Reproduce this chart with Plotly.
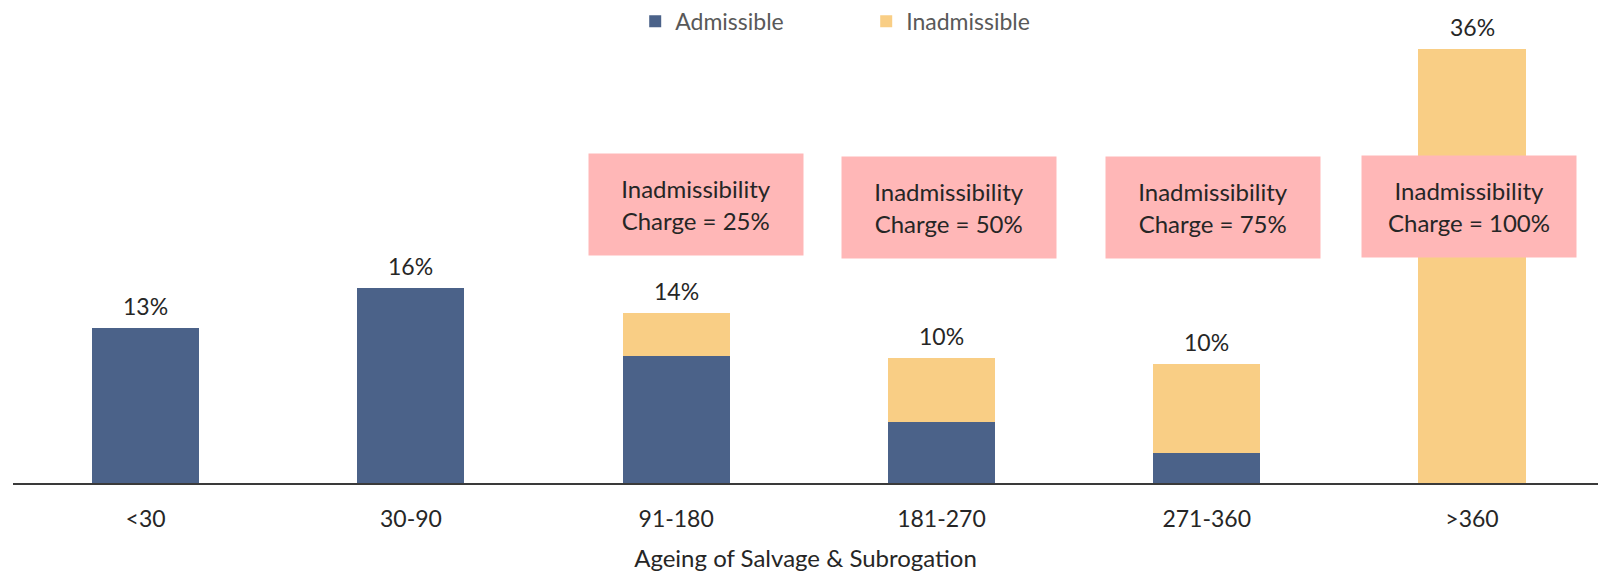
import plotly.graph_objects as go

# Ageing buckets (days) and share of recoveries in each bucket, in %
buckets = ["<30", "30-90", "91-180", "181-270", "271-360", ">360"]
admissible = [12.9, 16.2, 10.5, 5.1, 2.5, 0.0]
inadmissible = [0.0, 0.0, 3.6, 5.3, 7.4, 36.0]
totals = [a + b for a, b in zip(admissible, inadmissible)]

# Inadmissibility charge applied per bucket (only where a charge exists)
charge_buckets = ["91-180", "181-270", "271-360", ">360"]
charge_rates = [25, 50, 75, 100]
charge_offsets = [0.075, 0.03, 0.025, -0.01]
charge_heights = [0.628, 0.621, 0.621, 0.624]

BLUE = "#4B6289"
GOLD = "#F9CE85"
PINK = "#FFB7B7"
FONT = "Lato"
TEXT = "#262626"

fig = go.Figure()
fig.add_trace(go.Bar(x=buckets, y=admissible, name="Admissible",
                     marker=dict(color=BLUE, line=dict(width=0)), hoverinfo="skip"))
fig.add_trace(go.Bar(x=buckets, y=inadmissible, name="Inadmissible",
                     marker=dict(color=GOLD, line=dict(width=0)), hoverinfo="skip"))

# Total share label above each stacked column
for b, t in zip(buckets, totals):
    fig.add_annotation(x=b, y=t, xref="x", yref="y", text=f"{round(t)}%",
                       showarrow=False, yanchor="middle", yshift=22,
                       font=dict(family=FONT, size=23, color=TEXT))

for b, r, off, h in zip(charge_buckets, charge_rates, charge_offsets, charge_heights):
    idx = buckets.index(b)
    fig.add_annotation(x=idx + off, y=h, xref="x", yref="paper",
                       text=f"Inadmissibility<br>Charge = {r}%",
                       showarrow=False, bgcolor=PINK, width=212, height=99,
                       align="center", valign="middle",
                       font=dict(family=FONT, size=24, color=TEXT))

fig.update_layout(
    width=1598, height=574,
    margin=dict(l=13, r=0, t=40, b=91, autoexpand=False),
    barmode="stack", bargap=0.596,
    plot_bgcolor="white", paper_bgcolor="white",
    font=dict(family=FONT, size=23, color=TEXT),
    legend=dict(orientation="h", traceorder="normal",
                xref="container", x=0.3975, xanchor="left",
                yref="container", y=0.963, yanchor="middle",
                font=dict(family=FONT, size=23, color="#595959"),
                entrywidth=186, entrywidthmode="pixels",
                bgcolor="rgba(0,0,0,0)"),
    xaxis=dict(range=[-0.5, 5.475], showline=True, linecolor="#3a3a3a", linewidth=2,
               ticks="", ticklabelstandoff=14, automargin=False,
               tickfont=dict(family=FONT, size=23, color=TEXT),
               title=dict(text="Ageing of Salvage & Subrogation",
                          font=dict(family=FONT, size=24, color=TEXT), standoff=20),
               showgrid=False, zeroline=False),
    yaxis=dict(range=[0, 36.75], visible=False, showgrid=False, zeroline=False),
    showlegend=True,
)

fig.write_html("out.html")
